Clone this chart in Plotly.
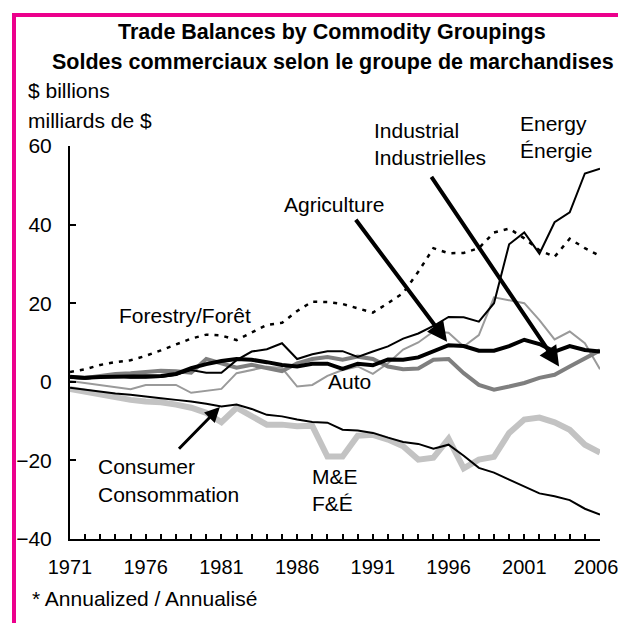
import plotly.graph_objects as go

years = list(range(1971, 2007))
tick_labels = ["1971", "1976", "1981", "1986", "1991", "1996", "2001", "2006*"]

energy = [1.0, 0.8, 1.2, 1.5, 1.0, 1.0, 1.2, 1.8, 3.0, 2.3, 2.3, 5.5, 7.7, 8.3, 9.8, 5.8, 7.0, 7.8, 7.8, 6.3,
          7.7, 9.0, 11.0, 12.3, 14.2, 16.5, 16.4, 15.3, 20.0, 35.0, 38.0, 32.6, 40.6, 43.1, 53.0, 54.2]
forestry = [2.5, 3.2, 4.3, 5.0, 5.5, 6.6, 8.0, 9.6, 11.0, 12.0, 11.8, 10.6, 12.5, 14.5, 15.0, 18.0, 20.4, 20.3, 19.8, 18.6,
            17.6, 20.0, 22.6, 28.0, 34.0, 32.7, 32.8, 34.0, 38.0, 39.0, 36.5, 33.5, 31.8, 36.4, 34.0, 32.0]
agriculture = [1.3, 1.0, 1.2, 1.3, 1.2, 1.4, 1.5, 2.0, 3.5, 4.5, 5.3, 5.8, 5.6, 5.0, 4.3, 3.9, 4.6, 4.6, 3.3, 4.6,
               4.2, 5.7, 5.6, 6.2, 7.8, 9.3, 9.1, 7.9, 7.9, 9.1, 10.7, 9.6, 7.7, 9.1, 8.1, 7.7]
industrial = [1.2, 1.0, 1.5, 2.0, 2.2, 2.5, 2.8, 2.7, 2.3, 5.8, 4.7, 3.6, 4.3, 3.6, 2.7, 4.7, 5.8, 6.3, 5.6, 6.4,
              5.8, 3.9, 3.2, 3.4, 5.6, 5.8, 2.2, -0.8, -2.0, -1.2, -0.3, 1.0, 1.8, 3.9, 6.0, 8.0]
auto = [0.2, -0.3, -0.8, -1.3, -1.9, -0.8, -0.8, -0.8, -2.8, -2.3, -1.8, 2.2, 3.0, 3.8, 3.5, -1.2, -0.8, 1.5, 3.0, 3.9,
        2.0, 4.7, 8.2, 10.0, 12.8, 12.5, 9.0, 11.9, 21.5, 20.8, 20.0, 15.7, 10.8, 12.8, 9.8, 3.2]
mande = [-1.8, -2.5, -3.3, -4.0, -4.6, -5.0, -5.2, -5.8, -6.6, -7.9, -10.3, -6.6, -8.8, -10.9, -10.9, -11.3, -11.2, -19.0,
         -19.0, -13.7, -13.5, -14.7, -16.4, -19.8, -19.3, -14.5, -22.0, -19.8, -19.1, -13.0, -9.6, -9.1, -10.3, -12.2,
         -16.0, -18.0]
consumer = [-1.5, -2.0, -2.5, -3.0, -3.3, -3.8, -4.2, -4.6, -5.0, -5.6, -6.3, -5.8, -6.9, -8.4, -8.8, -9.6, -10.2, -10.4,
            -12.2, -12.4, -13.0, -14.2, -15.3, -15.8, -17.0, -16.0, -18.8, -21.9, -23.1, -24.9, -26.6, -28.4, -29.1,
            -30.1, -32.3, -33.8]

FONT = "Liberation Sans, Arial, Helvetica, sans-serif"
MAGENTA = "#EC008C"

# page has an 8px body margin: figure pixel = screen pixel - OFF
OFF = 8
W, H = 626 - OFF, 623 - OFF
L, R, T, B = 70 - OFF, 26, 146 - OFF, 84
PW, PH = W - L - R, H - T - B


def px(X):
    return (X - OFF - L) / PW


def py(Y):
    return (H - B - (Y - OFF)) / PH


fig = go.Figure()

series = [
    ("M&E", mande, "#c3c3c3", 6, "solid"),
    ("Auto", auto, "#9a9a9a", 2, "solid"),
    ("Industrial", industrial, "#7f7f7f", 4, "solid"),
    ("Forestry", forestry, "black", 2.5, "4px,6px"),
    ("Agriculture", agriculture, "black", 4, "solid"),
    ("Energy", energy, "black", 2, "solid"),
    ("Consumer", consumer, "black", 2, "solid"),
]
for name, vals, col, w, dash in series:
    fig.add_trace(go.Scatter(x=years, y=vals, mode="lines", name=name,
                             line=dict(color=col, width=w, dash=dash), showlegend=False,
                             hoverinfo="skip"))

tickvals = years
ticktext = [tick_labels[(y - 1971) // 5] if (y - 1971) % 5 == 0 else "" for y in years]

fig.update_layout(
    width=W, height=H,
    margin=dict(l=L, r=R, t=T, b=B, pad=0),
    paper_bgcolor="white", plot_bgcolor="white",
    font=dict(family=FONT, size=21, color="black"),
    xaxis=dict(range=[1971, 2006.0001], tickvals=tickvals, ticktext=ticktext, ticks="inside",
               ticklen=5, tickwidth=1.5, tickcolor="black", showline=True, linecolor="black",
               linewidth=2, showgrid=False, zeroline=False, tickfont=dict(size=20),
               ticklabelstandoff=9, ticklabeloverflow="allow", automargin=False, fixedrange=True),
    yaxis=dict(range=[-40, 60], tickvals=[-40, -20, 0, 20, 40, 60], ticks="inside",
               ticklen=6, tickwidth=1.5, tickcolor="black", showline=True, linecolor="black",
               linewidth=2, showgrid=False, zeroline=False, tickfont=dict(size=21),
               ticklabelstandoff=12, automargin=False, fixedrange=True),
)

annotations = []


def text(t, X, Y, size=21, anchor="left", bold=False):
    annotations.append(dict(text=f"<b>{t}</b>" if bold else t, x=px(X), y=py(Y),
                            xref="paper", yref="paper", showarrow=False,
                            xanchor=anchor, yanchor="middle",
                            font=dict(family=FONT, size=size, color="black")))


text("Trade Balances by Commodity Groupings", 332, 32, size=21.5, anchor="center", bold=True)
text("Soldes commerciaux selon le groupe de marchandises", 333, 62, size=21.5, anchor="center", bold=True)
text("$ billions", 26, 90)
text("milliards de $", 26, 121)
text("Energy", 518, 123)
text("Énergie", 518, 150)
text("Industrial", 372, 130)
text("Industrielles", 372, 157)
text("Agriculture", 282, 205)
text("Forestry/Forêt", 117, 315)
text("Auto", 326, 381)
text("Consumer", 96, 466)
text("Consommation", 96, 494)
text("M&E", 310, 476)
text("F&É", 310, 503)
text("* Annualized / Annualisé", 30, 598)

# arrows (tail, head in data units)
arrows = [
    (1989.8, 41.6, 1995.9, 10.2, 4),
    (1994.8, 52.5, 2003.3, 3.9, 4),
    (1978.1, -17.4, 1980.9, -6.4, 3),
]
for ax_, ay_, x_, y_, w in arrows:
    annotations.append(dict(x=x_, y=y_, ax=ax_, ay=ay_, xref="x", yref="y", axref="x", ayref="y",
                            showarrow=True, arrowhead=2, arrowsize=1.0, arrowwidth=w,
                            arrowcolor="black", text=""))

fig.update_layout(annotations=annotations)

# magenta frame (left and top edges)
fig.add_shape(type="line", xref="paper", yref="paper", x0=px(14), x1=px(14), y0=py(13), y1=py(640),
              line=dict(color=MAGENTA, width=4))
fig.add_shape(type="line", xref="paper", yref="paper", x0=px(12), x1=px(640), y0=py(15), y1=py(15),
              line=dict(color=MAGENTA, width=4))

fig.write_html("out.html")
